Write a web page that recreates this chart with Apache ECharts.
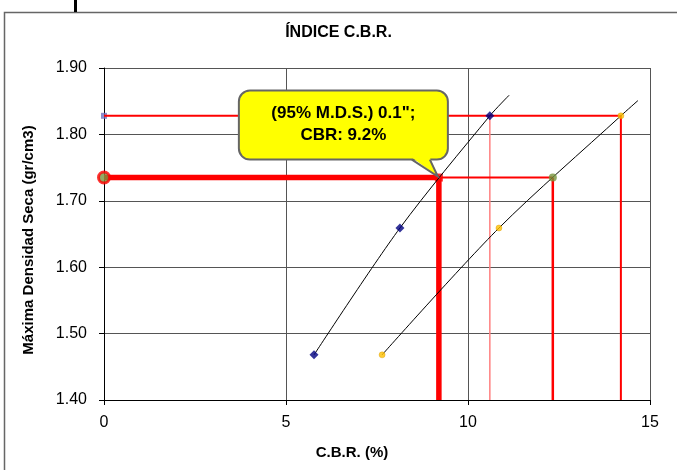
<!DOCTYPE html>
<html>
<head>
<meta charset="utf-8">
<script src="https://cdn.jsdelivr.net/npm/echarts@6/dist/echarts.min.js"></script>
<style>
html,body{margin:0;padding:0;background:#fff;}
#chart{width:677px;height:470px;}
</style>
</head>
<body>
<div id="chart"></div>
<script>
// ---- data ----
const chartTitle = 'ÍNDICE C.B.R.';
const xName = 'C.B.R. (%)';
const yName = 'Máxima Densidad Seca (gr/cm3)';
const xTicks = [0, 5, 10, 15];
const yTicks = [1.40, 1.50, 1.60, 1.70, 1.80, 1.90];

const densidadMax = [1.468, 1.659, 1.828];   // dry density of the 3 specimens
const cbrPen01 = [5.77, 8.13, 10.6];          // CBR at 0.1"
const cbrPen02 = [7.64, 10.85, 14.2];         // CBR at 0.2"
const trend01End = [11.13, 1.859];            // end of fitted line 0.1"
const trend02End = [14.67, 1.851];            // end of fitted line 0.2"

const mds95 = 1.735;      // 95% of M.D.S.
const cbr95Pen01 = 9.2;   // CBR at 95% MDS, 0.1"
const cbr95Pen02 = 12.33; // CBR at 95% MDS, 0.2"
const calloutLines = ['(95% M.D.S.) 0.1";', 'CBR: 9.2%'];

// ---- build ----
const xMin = xTicks[0], xMax = xTicks[xTicks.length - 1];
const yMin = yTicks[0], yMax = yTicks[yTicks.length - 1];
const dMax = densidadMax[2];
const FONT = '"Liberation Sans", Arial, sans-serif';

function guide(data, width, color, z) {
  return {
    type: 'line', data: data, symbol: 'none', silent: true, z: z || 3,
    lineStyle: { color: color || '#ff0000', width: width, cap: 'butt' }
  };
}

const series = [
  // red guide lines
  guide([[xMin, dMax], [cbrPen02[2], dMax]], 2),
  guide([[cbrPen01[2], dMax], [cbrPen01[2], yMin]], 1.5, '#ff8080'),
  guide([[cbrPen02[2], dMax], [cbrPen02[2], yMin]], 2),
  guide([[cbr95Pen01, mds95], [cbr95Pen02, mds95]], 2),
  guide([[cbr95Pen02, mds95], [cbr95Pen02, yMin]], 2.5),
  guide([[xMin, mds95], [cbr95Pen01, mds95]], 5.5),
  guide([[cbr95Pen01, mds95], [cbr95Pen01, yMin]], 5.5),
  // fitted lines
  {
    type: 'line', smooth: 0.3, symbol: 'none', silent: true, z: 5,
    lineStyle: { color: '#000', width: 1 },
    data: cbrPen01.map((x, i) => [x, densidadMax[i]]).concat([trend01End])
  },
  {
    type: 'line', smooth: 0.3, symbol: 'none', silent: true, z: 5,
    lineStyle: { color: '#000', width: 1 },
    data: cbrPen02.map((x, i) => [x, densidadMax[i]]).concat([trend02End])
  },
  // markers
  {
    type: 'scatter', symbol: 'diamond', symbolSize: 9, z: 6,
    itemStyle: { color: '#000080' },
    data: cbrPen01.map((x, i) => [x, densidadMax[i]])
  },
  {
    type: 'scatter', symbol: 'circle', symbolSize: 6, z: 6,
    itemStyle: { color: '#ffc000', borderColor: '#d99a00', borderWidth: 0.5 },
    data: cbrPen02.map((x, i) => [x, densidadMax[i]])
  },
  {
    type: 'scatter', symbol: 'circle', symbolSize: 8, z: 6,
    itemStyle: { color: '#77933c' },
    data: [[cbr95Pen02, mds95]]
  },
  {
    type: 'scatter', symbol: 'rect', symbolSize: 8, z: 4,
    itemStyle: { color: '#ff0000' },
    data: [[cbr95Pen01, mds95]]
  },
  {
    type: 'scatter', symbol: 'rect', symbolSize: 6, z: 2,
    itemStyle: { color: '#7070c0' },
    data: [[xMin, dMax]]
  },
  {
    type: 'scatter', symbol: 'circle', symbolSize: 11, z: 6,
    itemStyle: { color: '#77933c', borderColor: '#ff0000', borderWidth: 3 },
    data: [[xMin, mds95]]
  },
  // callout
  {
    type: 'custom', z: 10, silent: true,
    data: [[cbr95Pen01, mds95]],
    renderItem: function (params, api) {
      const p = api.coord([api.value(0), api.value(1)]);
      const bx = p[0] - 200, by = p[1] - 87, bw = 209, bh = 69;
      const tail = [[p[0] - 27, by + bh], [p[0] - 1, p[1] - 1], [p[0] - 9, by + bh]];
      return {
        type: 'group',
        children: [
          { type: 'rect', shape: { x: bx, y: by, width: bw, height: bh, r: 11 },
            style: { fill: '#ffff00', stroke: '#666666', lineWidth: 2 } },
          { type: 'polygon', shape: { points: [[tail[0][0], tail[0][1] - 2], tail[1], [tail[2][0], tail[2][1] - 2]] },
            style: { fill: '#ffff00', stroke: null } },
          { type: 'polyline', shape: { points: tail },
            style: { fill: null, stroke: '#666666', lineWidth: 2 } },
          { type: 'text',
            style: { text: calloutLines.join('\n'), x: bx + bw / 2, y: by + bh / 2 - 1,
              align: 'center', verticalAlign: 'middle', fill: '#000',
              fontSize: 17, fontWeight: 'bold', fontFamily: FONT, lineHeight: 22 } }
        ]
      };
    }
  }
];

const chart = echarts.init(document.getElementById('chart'), null, { renderer: 'canvas' });
chart.setOption({
  animation: false,
  backgroundColor: '#fff',
  textStyle: { fontFamily: FONT },
  title: {
    text: chartTitle, left: 'center', top: 20,
    textStyle: { fontSize: 16, fontWeight: 'bold', color: '#000', fontFamily: FONT }
  },
  graphic: [
    { type: 'rect', shape: { x: 4.5, y: 12.5, width: 720, height: 520 },
      style: { fill: 'none', stroke: '#666', lineWidth: 1.5 }, silent: true, z: -1 },
    { type: 'rect', shape: { x: 74, y: 0, width: 3, height: 12 },
      style: { fill: '#000' }, silent: true }
  ],
  grid: { left: 104, right: 27, top: 68, bottom: 70, containLabel: false },
  xAxis: {
    type: 'value', min: xMin, max: xMax, interval: xTicks[1] - xTicks[0],
    name: xName, nameLocation: 'middle', nameGap: 45,
    nameTextStyle: { fontSize: 15, fontWeight: 'bold', color: '#000', padding: [0, 50, 0, 0] },
    axisLine: { show: true, onZero: false, lineStyle: { color: '#000', width: 1 } },
    axisTick: { show: true, length: 5, lineStyle: { color: '#000' } },
    axisLabel: { fontSize: 16, color: '#000', margin: 15 },
    splitLine: { show: true, lineStyle: { color: '#555', width: 1 } }
  },
  yAxis: {
    type: 'value', min: yMin, max: yMax, interval: 0.1,
    name: yName, nameLocation: 'middle', nameGap: 68, nameRotate: 90,
    nameTextStyle: { fontSize: 15, fontWeight: 'bold', color: '#000', padding: [0, 12, 0, 0] },
    axisLine: { show: true, onZero: false, lineStyle: { color: '#000', width: 1 } },
    axisTick: { show: true, length: 5, lineStyle: { color: '#000' } },
    axisLabel: { fontSize: 16, color: '#000', margin: 17, formatter: v => v.toFixed(2) },
    splitLine: { show: true, lineStyle: { color: '#555', width: 1 } }
  },
  series: series
});
</script>
</body>
</html>
